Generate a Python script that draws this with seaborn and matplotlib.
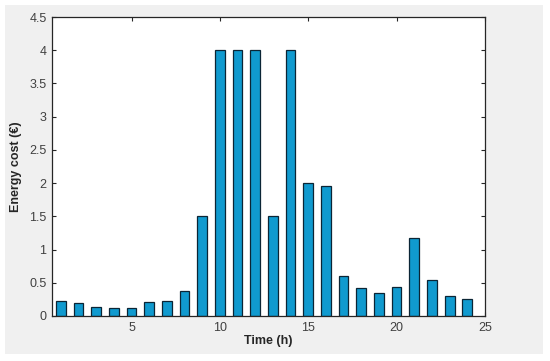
import matplotlib
matplotlib.use("Agg")
import matplotlib.pyplot as plt
import numpy as np
import pandas as pd
import seaborn as sns
from matplotlib.patches import Rectangle

# hourly energy cost
hours = list(range(1, 25))
cost = [0.22, 0.19, 0.14, 0.125, 0.125, 0.205, 0.23, 0.375,
        1.5, 4.0, 4.0, 4.0, 1.5, 4.0, 2.0, 1.95,
        0.60, 0.415, 0.35, 0.43, 1.175, 0.545, 0.30, 0.255]
x_ticks = [5, 10, 15, 20, 25]
y_ticks = [0, 0.5, 1, 1.5, 2, 2.5, 3, 3.5, 4, 4.5]
y_ticklabels = ['0', '0.5', '1', '1.5', '2', '2.5', '3', '3.5', '4', '4.5']

sns.set_style("white")
plt.rcParams['font.family'] = ['Liberation Sans', 'DejaVu Sans']

df = pd.DataFrame({'hour': hours, 'cost': cost})

fig = plt.figure(figsize=(5.5, 3.61), dpi=100, facecolor='white')
# matlab-like grey figure panel
fig.patches.append(Rectangle((5 / 550, 7 / 361), 538 / 550, 349 / 361,
                             transform=fig.transFigure, facecolor='#F0F0F0',
                             edgecolor='none', zorder=-5))
ax = fig.add_axes([52 / 550, 1 - 316 / 361, 433 / 550, 299 / 361])
ax.set_zorder(2)
ax.set_facecolor('white')

sns.barplot(data=df, x='hour', y='cost', native_scale=True, width=0.55,
            color='#109ACF', edgecolor='#0B2535', linewidth=0.9,
            saturation=1, ax=ax)

ax.set_xlim(0.5, 25)
ax.set_ylim(0, 4.5)
ax.set_xticks(x_ticks)
ax.set_xticklabels([str(t) for t in x_ticks])
ax.set_yticks(y_ticks)
ax.set_yticklabels(y_ticklabels)

ax.tick_params(direction='in', length=3, width=0.8, colors='#262626',
               labelcolor='#404040', labelsize=9, top=True, right=True,
               bottom=True, left=True, pad=4)
for s in ax.spines.values():
    s.set_color('#262626')
    s.set_linewidth(0.9)

ax.set_xlabel('Time (h)', fontsize=9, fontweight='bold', color='#262626', labelpad=1)
ax.set_ylabel('Energy cost (€)', fontsize=9, fontweight='bold', color='#262626', labelpad=5)

fig.savefig('out.png', dpi=100, facecolor='white')
